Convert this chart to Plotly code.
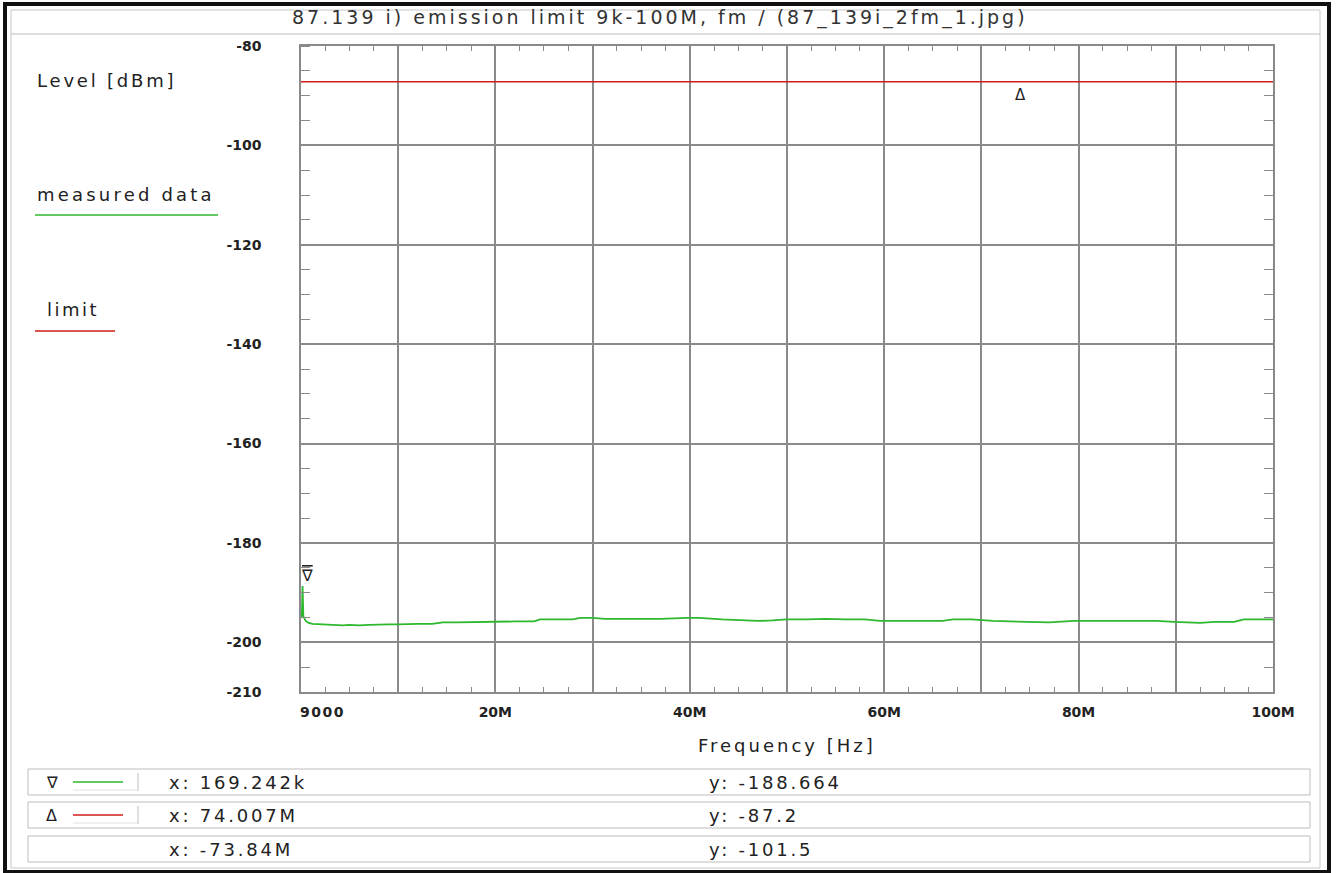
import plotly.graph_objects as go

# ---------------- data ----------------
freq_mhz = [0.009, 0.05, 0.1, 0.169242, 0.25, 0.5, 0.8, 1.2, 2.0, 3.0, 4.3, 5.0, 6.0, 7.0,
            8.0, 9.0, 10.0, 11.0, 12.0, 13.5, 14.6, 16.0, 18.0, 20.0, 22.0, 24.0, 24.6,
            26.0, 28.0, 28.7, 30.0, 31.3, 33.0, 35.0, 37.0, 39.7, 41.0, 43.3, 45.7, 47.0,
            48.5, 50.0, 52.0, 54.0, 56.0, 58.0, 59.6, 62.0, 64.0, 66.0, 67.1, 69.0, 71.2,
            73.0, 75.0, 77.0, 79.5, 82.0, 84.0, 86.0, 88.0, 89.8, 91.0, 92.5, 94.0, 96.0,
            97.0, 98.5, 100.0]
level_dbm = [-194.9, -194.7, -194.6, -188.664, -194.8, -195.7, -196.1, -196.3, -196.4, -196.4,
             -196.6, -196.5, -196.6, -196.5, -196.4, -196.4, -196.4, -196.3, -196.3, -196.3,
             -196.0, -196.0, -195.9, -195.8, -195.8, -195.8, -195.4, -195.4, -195.4, -195.1,
             -195.1, -195.3, -195.3, -195.3, -195.3, -195.1, -195.1, -195.4, -195.6, -195.7,
             -195.6, -195.4, -195.4, -195.3, -195.4, -195.4, -195.7, -195.7, -195.7, -195.7,
             -195.4, -195.4, -195.7, -195.8, -196.0, -196.0, -195.7, -195.7, -195.7, -195.7,
             -195.7, -195.9, -196.0, -196.1, -195.9, -195.9, -195.4, -195.4, -195.4]
limit_freq_mhz = [0.009, 100.0]
limit_dbm = [-87.2, -87.2]

marker1 = (0.169242, -188.664)
marker2 = (74.007, -87.2)

x_ticks_mhz = [10, 20, 30, 40, 50, 60, 70, 80, 90, 100]
x_tick_text = ["", "20M", "", "40M", "", "60M", "", "80M", "", "100M"]
y_ticks = [-210, -200, -180, -160, -140, -120, -100, -80]

title_text = "87.139 i) emission limit 9k-100M, fm / (87_139i_2fm_1.jpg)"
info_rows = [("∇", "#2db82d", "x: 169.242k", "y: -188.664"),
             ("Δ", "#d01c1c", "x: 74.007M", "y: -87.2"),
             ("", None, "x: -73.84M", "y: -101.5")]

# ---------------- layout geometry ----------------
W, H = 1336, 873
PL, PR, PT, PB = 301, 1273, 46, 692
PW, PH = PR - PL, PB - PT


def px(x):
    return (x - PL) / PW


def py(y):
    return (PB - y) / PH


GREEN = "#2db82d"
RED = "#d01c1c"
GRID = "#8a8a8a"
TXT = "#222222"
FONT = "DejaVu Sans"

fig = go.Figure()
fig.add_trace(go.Scatter(x=[f * 1e6 for f in freq_mhz], y=level_dbm, mode="lines",
                         line=dict(color=GREEN, width=1.8), name="measured data",
                         showlegend=False))
fig.add_trace(go.Scatter(x=[f * 1e6 for f in limit_freq_mhz], y=limit_dbm, mode="lines",
                         line=dict(color=RED, width=1.6), name="limit", showlegend=False))
# invisible copy on mirrored axes (top / right) to carry their minor ticks
fig.add_trace(go.Scatter(x=[f * 1e6 for f in limit_freq_mhz], y=limit_dbm, mode="lines",
                         line=dict(color="rgba(0,0,0,0)", width=0), xaxis="x2", yaxis="y2",
                         hoverinfo="skip", showlegend=False))

shapes = []


def line(x0, y0, x1, y1, color, width=1):
    shapes.append(dict(type="line", xref="paper", yref="paper", x0=px(x0), y0=py(y0),
                       x1=px(x1), y1=py(y1), line=dict(color=color, width=width), layer="above"))


def rect(x0, y0, x1, y1, color, width=1):
    shapes.append(dict(type="rect", xref="paper", yref="paper", x0=px(x0), y0=py(y0),
                       x1=px(x1), y1=py(y1), line=dict(color=color, width=width), layer="above"))


# window frame
rect(5, 4, 1329, 872, "#111111", 4)
rect(11, 10, 1320, 868, "#c8c8c8", 1)
line(11, 34, 1320, 34, "#bdbdbd", 1)
# legend samples at left
line(35, 215, 218, 215, GREEN, 1.5)
line(35, 331, 115, 331, RED, 1.5)
# info boxes
box_y = [(769, 795), (802, 828), (836, 862)]
for (y0, y1), row in zip(box_y, info_rows):
    rect(28, y0, 1310, y1, "#bdbdbd", 1)
    if row[1]:
        yc = (y0 + y1) / 2
        line(73, yc, 123, yc, row[1], 1.3)
        line(138, y0 + 4, 138, y1 - 4, "#bdbdbd", 1)
        line(73, y1 - 5, 138, y1 - 5, "#e0e0e0", 1)

ann = []


def text(x, y, s, size=18, xanchor="left", bold=False, color=TXT, spacing=0.0):
    t = ("<b>%s</b>" % s) if bold else s
    if spacing:
        t = "<span style='letter-spacing:%.1fpx'>%s</span>" % (spacing, t)
    ann.append(dict(xref="paper", yref="paper", x=px(x), y=py(y), text=t,
                    showarrow=False, xanchor=xanchor, yanchor="middle",
                    font=dict(family=FONT, size=size, color=color)))


text(660, 18, title_text, 19, "center", color="#333333", spacing=3.0)
text(35, 81, "Level [dBm]", 18, spacing=2.8)
text(35, 194, "measured data", 18, spacing=3.2)
text(45, 309, "limit", 18, spacing=2.5)
text(787, 745, "Frequency [Hz]", 18, "center", spacing=3.0)
text(298, 712, "9000", 14, "left", bold=True, spacing=1.5)
for (y0, y1), row in zip(box_y, info_rows):
    yc = (y0 + y1) / 2
    if row[0]:
        text(52, yc, row[0], 16, "center")
    text(167, yc, row[2], 18, spacing=2.8)
    text(707, yc, row[3], 18, spacing=2.8)

# data markers
ann.append(dict(xref="x", yref="y", x=marker1[0] * 1e6, y=marker1[1],
                text="<span style='text-decoration:overline'>∇</span>", showarrow=False,
                xanchor="center", yanchor="bottom", xshift=4, yshift=-1,
                font=dict(family=FONT, size=16, color=TXT)))
ann.append(dict(xref="x", yref="y", x=marker2[0] * 1e6, y=marker2[1], text="Δ", showarrow=False,
                xanchor="center", yanchor="top", yshift=-2,
                font=dict(family=FONT, size=15, color=TXT)))

tickfont = dict(family=FONT, size=14, color=TXT, weight="bold")
fig.update_layout(
    width=W, height=H,
    margin=dict(l=PL, r=W - PR, t=PT, b=H - PB, pad=0),
    paper_bgcolor="white", plot_bgcolor="white",
    shapes=shapes, annotations=ann, showlegend=False,
    xaxis=dict(range=[9000, 100e6], tickvals=[v * 1e6 for v in x_ticks_mhz], ticktext=x_tick_text,
               showgrid=True, gridcolor=GRID, gridwidth=1.5, zeroline=False,
               showline=True, linecolor=GRID, linewidth=1.5, mirror=True, ticks="",
               tickfont=tickfont, ticklabelstandoff=6,
               minor=dict(tick0=0, dtick=2.5e6, ticks="inside", ticklen=5, tickcolor=GRID,
                          tickwidth=1.2, showgrid=False)),
    yaxis=dict(range=[-210, -80], tickvals=y_ticks, ticktext=[str(v) for v in y_ticks],
               showgrid=True, gridcolor=GRID, gridwidth=1.5, zeroline=False,
               showline=True, linecolor=GRID, linewidth=1.5, mirror=True, ticks="",
               tickfont=tickfont, ticklabelstandoff=35,
               minor=dict(tick0=-80, dtick=5, ticks="inside", ticklen=9, tickcolor=GRID,
                          tickwidth=1.2, showgrid=False)),
    xaxis2=dict(range=[9000, 100e6], overlaying="x", side="top", showgrid=False, zeroline=False,
                showticklabels=False, ticks="", showline=False,
                minor=dict(tick0=0, dtick=2.5e6, ticks="inside", ticklen=5, tickcolor=GRID,
                           tickwidth=1.2, showgrid=False)),
    yaxis2=dict(range=[-210, -80], overlaying="y", side="right", showgrid=False, zeroline=False,
                showticklabels=False, ticks="", showline=False,
                minor=dict(tick0=-80, dtick=5, ticks="inside", ticklen=9, tickcolor=GRID,
                           tickwidth=1.2, showgrid=False)),
)

fig.write_html("out.html", config={"displayModeBar": False},
               post_script="document.body.style.margin='0';")
